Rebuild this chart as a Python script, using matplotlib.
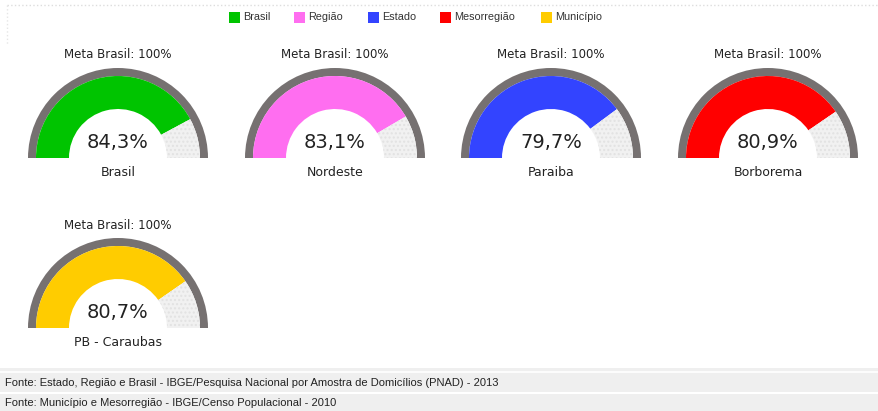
import matplotlib.pyplot as plt
from matplotlib.patches import Wedge, Rectangle

# data
names = ["Brasil", "Nordeste", "Paraiba", "Borborema", "PB - Caraubas"]
values = [84.3, 83.1, 79.7, 80.9, 80.7]
colors = ["#00c400", "#ff6ef0", "#3344ff", "#ff0000", "#ffcc00"]
legend_labels = ["Brasil", "Região", "Estado", "Mesorregião", "Município"]
meta_label = "Meta Brasil: 100%"
footer = ["Fonte: Estado, Região e Brasil - IBGE/Pesquisa Nacional por Amostra de Domicílios (PNAD) - 2013",
          "Fonte: Município e Mesorregião - IBGE/Censo Populacional - 2010"]

W, H = 879, 411
fig = plt.figure(figsize=(W / 100, H / 100), dpi=100)
ax = fig.add_axes([0, 0, 1, 1])
ax.set_xlim(0, W)
ax.set_ylim(0, H)
ax.axis("off")

def Y(y):
    return H - y

# page frame bits
ax.plot([7, W], [Y(5), Y(5)], color="#dddddd", lw=1, ls=":")
ax.plot([7, 7], [Y(5), Y(45)], color="#e6e6e6", lw=1, ls=":")
ax.add_patch(Rectangle((0, 0), W, Y(368), color="#efefef", lw=0))
ax.plot([0, W], [Y(372), Y(372)], color="white", lw=1.2)
ax.plot([0, W], [Y(393), Y(393)], color="white", lw=1.5)

# legend
leg_x = [229, 294, 368, 440, 541]
for lx, lab, c in zip(leg_x, legend_labels, colors):
    ax.add_patch(Rectangle((lx, Y(23)), 11, 11, color=c, lw=0))
    ax.text(lx + 14, Y(17.5), lab, fontsize=7.8, family="Liberation Sans",
            color="#333333", va="center", ha="left")

# gauges
centers = [(118, 158), (335, 158), (551, 158), (768, 158), (118, 328)]
R_out, R_ring, R_in = 90, 82, 49
for (cx, cy), name, v, c in zip(centers, names, values, colors):
    yc = Y(cy)
    ang = 180 - 1.8 * v
    ax.add_patch(Wedge((cx, yc), R_out, 0, 180, width=R_out - R_ring, color="#767171", lw=0))
    ax.add_patch(Wedge((cx, yc), R_ring, ang, 180, width=R_ring - R_in, color=c, lw=0))
    ax.add_patch(Wedge((cx, yc), R_ring, 0, ang, width=R_ring - R_in, facecolor="#f1f1f1",
                       edgecolor="#e2e2e2", hatch="....", lw=0))
    ax.text(cx, Y(cy - 103), meta_label, fontsize=8.5, ha="center", va="center", color="#222222")
    ax.text(cx, Y(cy - 15), f"{v:.1f}%".replace(".", ","), fontsize=14, ha="center",
            va="center", color="#222222")
    ax.text(cx, Y(cy + 14), name, fontsize=9, ha="center", va="center", color="#222222")

# footer
ax.text(5, Y(383), footer[0], fontsize=8, family="Liberation Sans", va="center", color="#222222")
ax.text(5, Y(403), footer[1], fontsize=8, family="Liberation Sans", va="center", color="#222222")

fig.savefig("out.png", dpi=100)
